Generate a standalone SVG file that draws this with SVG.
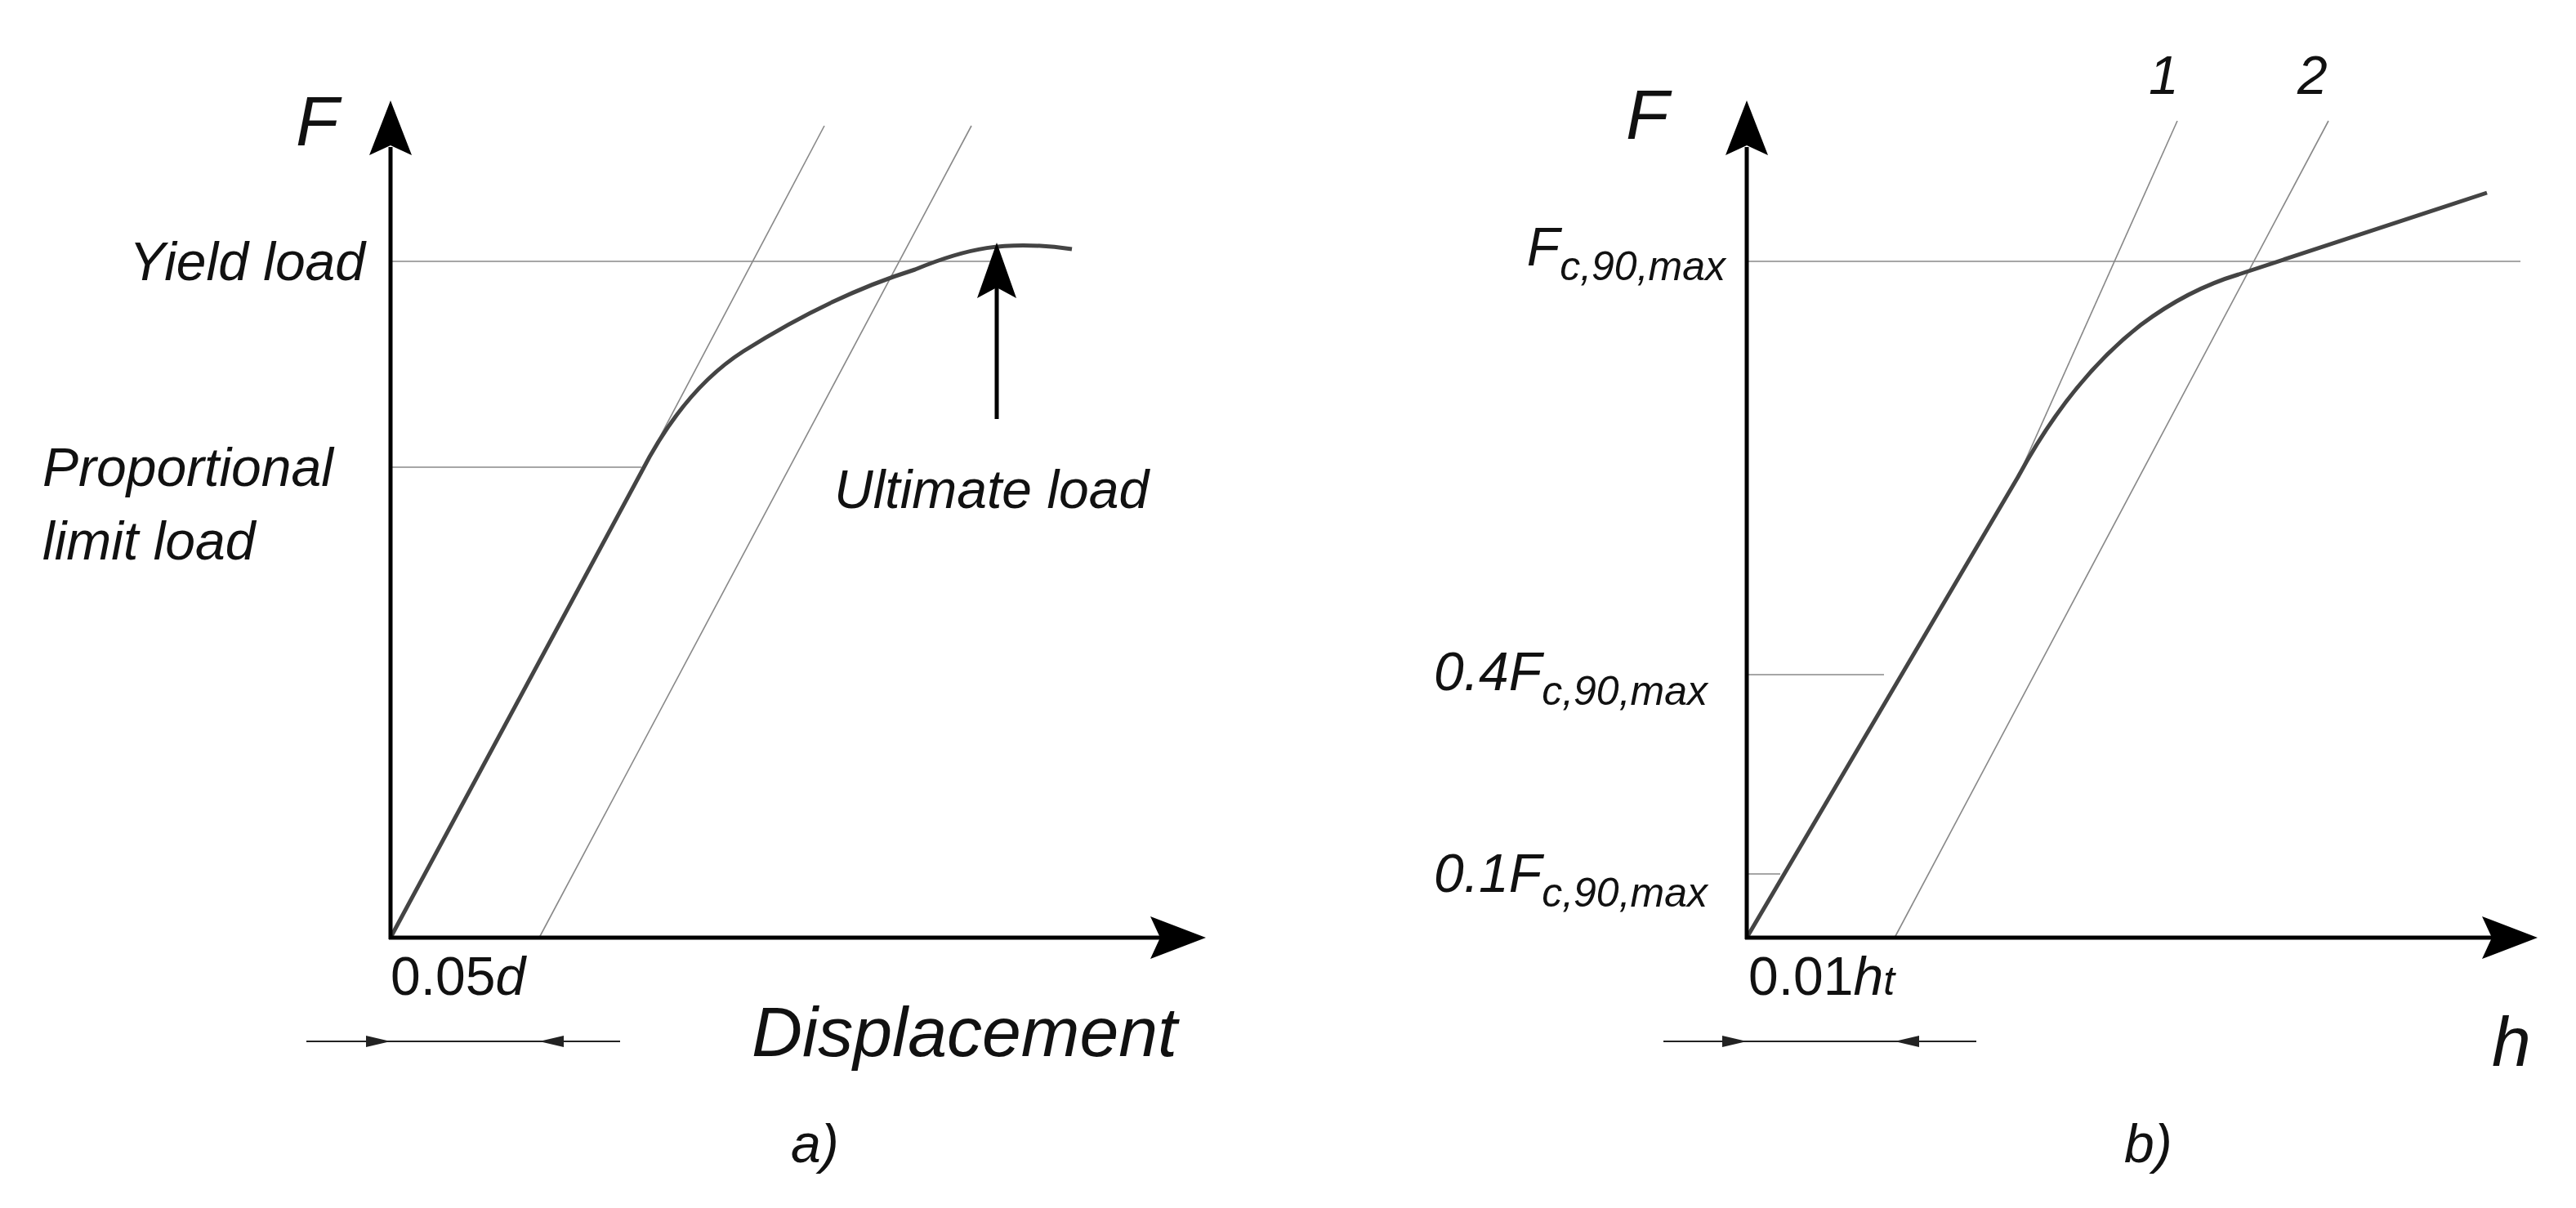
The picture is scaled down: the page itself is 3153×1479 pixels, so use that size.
<svg xmlns="http://www.w3.org/2000/svg" width="3153" height="1479" viewBox="0 0 3153 1479">
<style>
.ax{stroke:#000;stroke-width:5;fill:none}
.cv{stroke:#444;stroke-width:5;fill:none;stroke-linejoin:round}
.th{stroke:#888;stroke-width:1.6;fill:none}
.dm{stroke:#222;stroke-width:2;fill:none}
text{font-family:"Liberation Sans",Arial,sans-serif;font-style:italic;fill:#111}
.l{font-size:66px}
.b{font-size:86px}
.s{font-size:50px}
.u{font-style:normal}
</style>
<rect width="3153" height="1479" fill="#fff"/>
<g id="panel-a">
<line class="th" x1="478" y1="320" x2="1225" y2="320"/>
<line class="th" x1="478" y1="572" x2="785" y2="572"/>
<line class="th" x1="785" y1="578" x2="1009" y2="154"/>
<line class="th" x1="660" y1="1148" x2="1189" y2="154"/>
<path class="cv" d="M478,1148 L785,578 C820,510 860,462 910,430 C970,392 1040,355 1120,330 C1180,305 1230,293 1312,305"/>
<line class="ax" x1="478" y1="1150" x2="478" y2="180"/>
<polygon points="478,123 452,190 478,178 504,190" fill="#000"/>
<line class="ax" x1="476" y1="1148" x2="1420" y2="1148"/>
<polygon points="1476,1148 1408,1122 1420,1148 1408,1174" fill="#000"/>
<line class="ax" x1="1220" y1="513" x2="1220" y2="340"/>
<polygon points="1220,297 1196,365 1220,352 1244,365" fill="#000"/>
<line class="dm" x1="375" y1="1275" x2="759" y2="1275"/>
<polygon points="478,1275 448,1268 448,1282" fill="#222"/>
<polygon points="660,1275 690,1268 690,1282" fill="#222"/>
<text class="b" x="362" y="178">F</text>
<text class="l" x="447" y="343" text-anchor="end">Yield load</text>
<text class="l" x="52" y="595">Proportional</text>
<text class="l" x="52" y="685">limit load</text>
<text class="l" x="1021" y="622">Ultimate load</text>
<text class="l" x="478" y="1218"><tspan class="u">0.05</tspan>d</text>
<text class="b" x="1441" y="1293" text-anchor="end">Displacement</text>
<text class="l" x="968" y="1423">a)</text>
</g>
<g id="panel-b">
<line class="th" x1="2138" y1="320" x2="3085" y2="320"/>
<line class="th" x1="2138" y1="826" x2="2306" y2="826"/>
<line class="th" x1="2138" y1="1070" x2="2179" y2="1070"/>
<line class="th" x1="2470" y1="584" x2="2665" y2="148"/>
<line class="th" x1="2319" y1="1148" x2="2850" y2="148"/>
<path class="cv" d="M2138,1148 L2470,584 C2510,510 2560,445 2620,398 C2660,368 2700,348 2740,336 L3044,236"/>
<line class="ax" x1="2138" y1="1150" x2="2138" y2="180"/>
<polygon points="2138,123 2112,190 2138,178 2164,190" fill="#000"/>
<line class="ax" x1="2136" y1="1148" x2="3050" y2="1148"/>
<polygon points="3106,1148 3038,1122 3050,1148 3038,1174" fill="#000"/>
<line class="dm" x1="2036" y1="1275" x2="2419" y2="1275"/>
<polygon points="2138,1275 2108,1268 2108,1282" fill="#222"/>
<polygon points="2319,1275 2349,1268 2349,1282" fill="#222"/>
<text class="b" x="1990" y="170">F</text>
<text class="l" x="2630" y="115">1</text>
<text class="l" x="2812" y="115">2</text>
<text x="2112" y="325" text-anchor="end"><tspan class="l">F</tspan><tspan class="s" dy="18">c,90,max</tspan></text>
<text x="2090" y="845" text-anchor="end"><tspan class="l">0.4F</tspan><tspan class="s" dy="18">c,90,max</tspan></text>
<text x="2090" y="1092" text-anchor="end"><tspan class="l">0.1F</tspan><tspan class="s" dy="18">c,90,max</tspan></text>
<text class="l" x="2140" y="1218"><tspan class="u">0.01</tspan>h<tspan class="s">t</tspan></text>
<text class="b" x="3050" y="1305">h</text>
<text class="l" x="2600" y="1423">b)</text>
</g>
</svg>
